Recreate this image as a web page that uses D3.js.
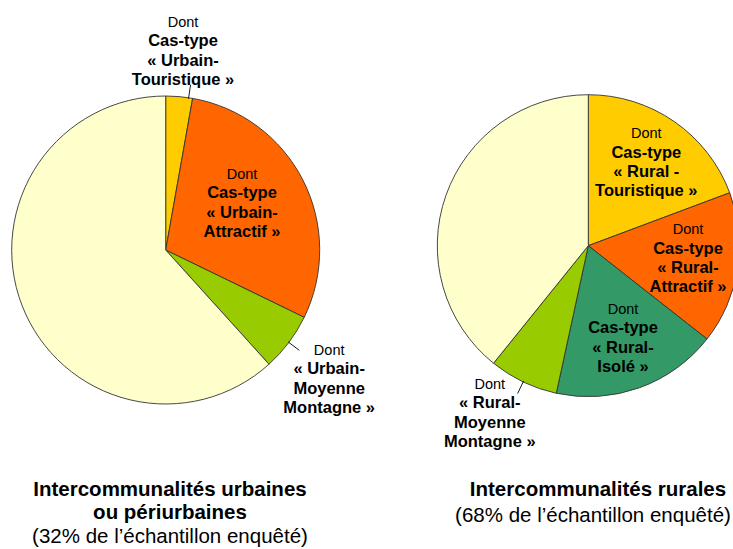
<!DOCTYPE html>
<html>
<head>
<meta charset="utf-8">
<script src="https://cdn.jsdelivr.net/npm/d3@7"></script>
<style>
  body { margin: 0; background: #fff; }
  svg { display: block; font-family: "Liberation Sans", Arial, sans-serif; }
</style>
</head>
<body>
<div id="chart"></div>
<script>
// parts of each sample, in % (clockwise from 12 o'clock)
const urbanKeys = ["Urbain-Touristique", "Urbain-Attractif", "Urbain-Moyenne Montagne", "Autres"];
const urbanValues = [2.8, 29.4, 6.1, 61.7];
const ruralKeys = ["Rural-Touristique", "Rural-Attractif", "Rural-Isolé", "Rural-Moyenne Montagne", "Autres"];
const ruralValues = [19.3, 16.3, 17.8, 7.4, 39.2];

// label texts ([text, bold])
const urbanLabels = [
  [["Dont", false], ["Cas-type", true], ["« Urbain-", true], ["Touristique »", true]],
  [["Dont", false], ["Cas-type", true], ["« Urbain-", true], ["Attractif »", true]],
  [["Dont", false], ["« Urbain-", true], ["Moyenne", true], ["Montagne »", true]],
  null
];
const ruralLabels = [
  [["Dont", false], ["Cas-type", true], ["« Rural -", true], ["Touristique »", true]],
  [["Dont", false], ["Cas-type", true], ["« Rural-", true], ["Attractif »", true]],
  [["Dont", false], ["Cas-type", true], ["« Rural-", true], ["Isolé »", true]],
  [["Dont", false], ["« Rural-", true], ["Moyenne", true], ["Montagne »", true]],
  null
];
const urbanTitle = [["Intercommunalités urbaines", true], ["ou périurbaines", true], ["(32% de l’échantillon enquêté)", false]];
const ruralTitle = [["Intercommunalités rurales", true], ["(68% de l’échantillon enquêté)", false]];

const colorsUrban = ["#FFCC00", "#FF6600", "#99CC00", "#FFFFCC"];
const colorsRural = ["#FFCC00", "#FF6600", "#339966", "#99CC00", "#FFFFCC"];

const W = 733, H = 549;
const svg = d3.select("#chart").append("svg").attr("width", W).attr("height", H);

// pie layout: centre, radius, label anchors (relative to centre),
// leader = where along the slice the line leaves (0..1), null = no line
const pies = [
  { keys: urbanKeys, values: urbanValues, labels: urbanLabels, colors: colorsUrban,
    cx: 165.7, cy: 250, r: 154,
    pos: [[17.3, -223], [76.3, -71], [163.5, 105], null],
    leader: [0.85, null, 0.5, null],
    title: urbanTitle, tx: [170, 170, 170], ty: [496, 518.5, 543] },
  { keys: ruralKeys, values: ruralValues, labels: ruralLabels, colors: colorsRural,
    cx: 588.3, cy: 245.7, r: 151,
    pos: [[58, -107.5], [99.7, -11.5], [34.7, 68.5], [-98.5, 143.5], null],
    leader: [null, null, null, 0.5, null],
    title: ruralTitle, tx: [598, 593], ty: [496, 522] }
];

const lineGap = 19.3;

pies.forEach(p => {
  const g = svg.append("g").attr("transform", `translate(${p.cx},${p.cy})`);
  const pie = d3.pie().sort(null).value(d => d)(p.values);
  const arc = d3.arc().innerRadius(0).outerRadius(p.r);

  g.selectAll("path.slice")
    .data(pie)
    .enter().append("path")
    .attr("class", "slice")
    .attr("d", arc)
    .attr("fill", (d, i) => p.colors[i])
    .attr("stroke", "#333")
    .attr("stroke-width", 0.9)
    .attr("stroke-linejoin", "round");

  // leader lines
  pie.forEach((d, i) => {
    if (p.leader[i] == null) return;
    const a = d.startAngle + (d.endAngle - d.startAngle) * p.leader[i];
    const r0 = p.r - 1, r1 = p.r * 1.085;
    g.append("line")
      .attr("x1", r0 * Math.sin(a)).attr("y1", -r0 * Math.cos(a))
      .attr("x2", r1 * Math.sin(a)).attr("y2", -r1 * Math.cos(a))
      .attr("stroke", "#000")
      .attr("stroke-width", 0.9);
  });

  // slice labels
  p.labels.forEach((lines, i) => {
    if (!lines) return;
    const t = g.append("text")
      .attr("text-anchor", "middle")
      .attr("fill", "#000");
    lines.forEach((l, j) => {
      t.append("tspan")
        .attr("x", p.pos[i][0])
        .attr("y", p.pos[i][1] + j * lineGap)
        .style("font-size", l[1] ? "16.5px" : "14.5px")
        .style("font-weight", l[1] ? "bold" : "normal")
        .text(l[0]);
    });
  });

  // titles under the pie
  p.title.forEach((l, j) => {
    svg.append("text")
      .attr("x", p.tx[j])
      .attr("y", p.ty[j])
      .attr("text-anchor", "middle")
      .style("font-size", "20.5px")
      .style("font-weight", l[1] ? "bold" : "normal")
      .text(l[0]);
  });
});
</script>
</body>
</html>
